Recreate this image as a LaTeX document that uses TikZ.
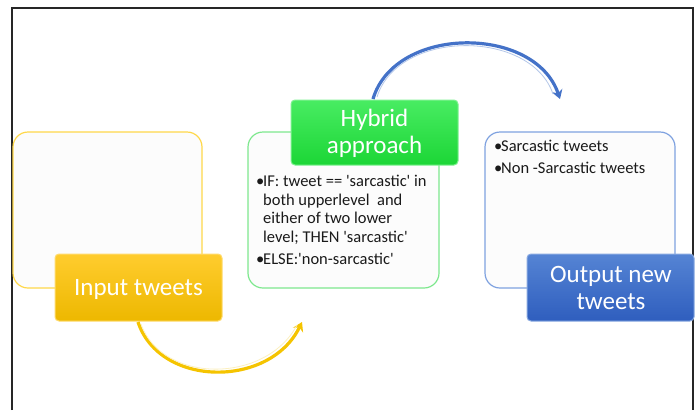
\documentclass[tikz,border=0pt]{standalone}
\usepackage{fontspec}
\setmainfont{Carlito}[Ligatures=TeXOff]
\usetikzlibrary{arrows.meta}

\definecolor{panelfill}{HTML}{FCFCFC}
\definecolor{ylwline}{HTML}{FFD84A}
\definecolor{ylwtop}{HTML}{FFCC2E}
\definecolor{ylwbot}{HTML}{EDB800}
\definecolor{grnline}{HTML}{7EE88E}
\definecolor{grntop}{HTML}{48EC62}
\definecolor{grnbot}{HTML}{1CD636}
\definecolor{bluline}{HTML}{7FA2E0}
\definecolor{blutop}{HTML}{5584D4}
\definecolor{blubot}{HTML}{2F5EBE}
\definecolor{ylwarrow}{HTML}{F5C400}
\definecolor{bluarrow}{HTML}{4472C8}
\definecolor{bodytext}{HTML}{1A1A1A}

\tikzset{
  panel/.style={draw=#1, line width=1.2pt, fill=panelfill, rounded corners=15pt},
  labelbox/.style n args={2}{rounded corners=4pt, top color=#1, bottom color=#2, draw=#1!70!white, line width=1pt},
  boxtext/.style={text=white, font=\fontsize{25}{27}\selectfont, align=center, inner sep=0pt},
  bullettext/.style={text=bodytext, font=\fontsize{16.5}{18.5}\selectfont, anchor=north west, inner sep=0pt, align=left},
  flow/.style={line width=3.2pt, color=#1, -{Stealth[length=9pt,width=11pt,inset=3pt]}},
  frameline/.style={line width=1.4pt, color=black!85}
}

\newcommand{\bul}{\makebox[7pt][l]{•}}
\newcommand{\ind}{\hspace*{7pt}}

\begin{document}
\begin{tikzpicture}[x=1pt,y=-1pt]
  \useasboundingbox (0,0) rectangle (699,410);
  \fill[white] (0,0) rectangle (699,410);

  % outer frame
  \draw[frameline] (12,410) -- (12,8) -- (693,8) -- (693,410);

  % input stage
  \draw[panel=ylwline] (13,132) rectangle (202,288);
  \draw[labelbox={ylwtop}{ylwbot}] (55,254) rectangle (222,321);
  \node[boxtext] (inp) at (138.5,289) {Input tweets};
  \coordinate (inpS) at (138,322);

  % hybrid stage
  \draw[panel=grnline] (248,132) rectangle (439,288);
  \draw[labelbox={grntop}{grnbot}] (291,100) rectangle (458,165);
  \node[boxtext] (hyb) at (374.5,133) {Hybrid\\approach};
  \coordinate (hybN) at (373,99);
  \coordinate (hybW) at (302,322);
  \node[bullettext] (rule) at (256,175) {%
    \bul IF: tweet == 'sarcastic' in\\
    \ind both upperlevel\ \ and\\
    \ind either of two lower\\
    \ind level; THEN 'sarcastic'\\[3.5pt]
    \bul ELSE:'non-sarcastic'};

  % output stage
  \draw[panel=bluline] (485,132) rectangle (675,288);
  \draw[labelbox={blutop}{blubot}] (527,254) rectangle (694,321);
  \node[boxtext] (out) at (611,287.5) {Output new\\tweets};
  \coordinate (outN) at (560,99);
  \node[bullettext] (res) at (494,140) {%
    \bul Sarcastic tweets\\[3pt]
    \bul Non -Sarcastic tweets};

  % flow arrows
  \draw[flow=ylwarrow] (inpS) .. controls (160,388) and (270,388) .. (hybW);
  \draw[white!75!ylwarrow, line width=0.8pt] (141,324) .. controls (162,384) and (266,384) .. (297,325);
  \draw[flow=bluarrow] (hybN) .. controls (395,25) and (535,25) .. (outN);
  \draw[white!60!bluarrow, line width=0.8pt] (377,97) .. controls (398,29) and (531,29) .. (553,94);
\end{tikzpicture}
\end{document}
